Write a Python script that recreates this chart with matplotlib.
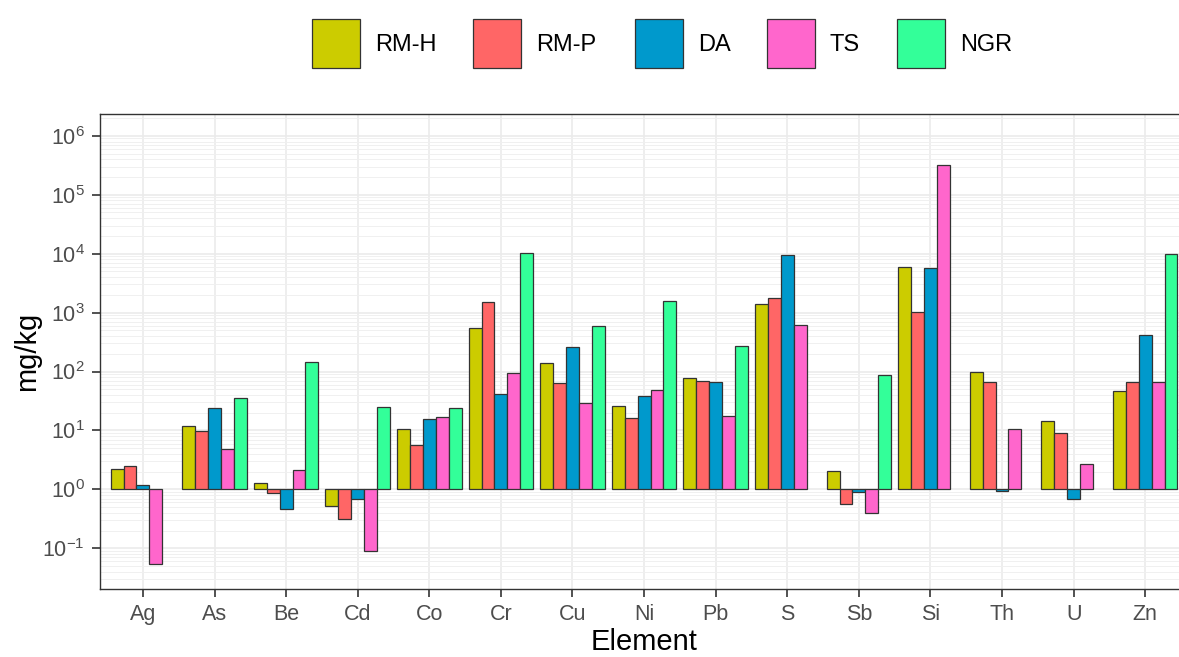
import numpy as np
import matplotlib
matplotlib.use("Agg")
import matplotlib.pyplot as plt
from matplotlib.patches import Rectangle
from matplotlib.ticker import LogLocator, NullFormatter

plt.rcParams['font.family'] = ['Liberation Sans', 'DejaVu Sans']

elements = ["Ag", "As", "Be", "Cd", "Co", "Cr", "Cu", "Ni", "Pb", "S", "Sb", "Si", "Th", "U", "Zn"]
groups = ["RM-H", "RM-P", "DA", "TS", "NGR"]
colors = ["#CCCC00", "#FF6666", "#0099CC", "#FF66CC", "#33FF99"]

nan = np.nan
rm_h = [2.2, 11.8, 1.26, 0.52, 10.7, 550, 140, 26.5, 78, 1420, 2.04, 5900, 100, 14.6, 47.6]
rm_p = [2.5, 9.8, 0.88, 0.32, 5.7, 1490, 63, 16.4, 69, 1740, 0.57, 1010, 67, 9.1, 67]
da = [1.17, 24, 0.47, 0.70, 15.4, 42, 263, 38, 66, 9500, 0.91, 5620, 0.93, 0.68, 420]
ts = [0.054, 4.9, 2.1, 0.089, 17, 95, 29, 48, 17.5, 625, 0.40, 318000, 10.6, 2.65, 67]
ngr = [nan, 36, 144, 25, 24, 10300, 600, 1550, 272, nan, 89, nan, nan, nan, 9900]
series = [rm_h, rm_p, da, ts, ngr]

W, H = 1179, 657
fig = plt.figure(figsize=(W / 100, H / 100), dpi=100)
ax = fig.add_axes([0.0848, 0.1035, 0.923, 0.723])

x = np.arange(len(elements))
w = 0.9 / len(groups)
for j, (vals, col) in enumerate(zip(series, colors)):
    v = np.array(vals, dtype=float)
    ok = ~np.isnan(v)
    # bars grow from 1 so values below 1 hang downward on the log axis
    ax.bar(x[ok] + (j - 2) * w, v[ok] - 1, bottom=1, width=w,
           color=col, edgecolor="#333333", linewidth=0.9, zorder=3)

ax.set_yscale("log")
ax.set_ylim(10 ** -1.69, 10 ** 6.37)
ax.set_xlim(-0.6, 14.6)
ax.yaxis.set_major_locator(LogLocator(base=10, numticks=20))
ax.yaxis.set_minor_locator(LogLocator(base=10, subs=np.arange(2, 10), numticks=20))
ax.yaxis.set_minor_formatter(NullFormatter())
ax.set_xticks(x)
ax.set_xticklabels(elements)

ax.grid(True, which="major", color="#EBEBEB", linewidth=1.2, zorder=0)
ax.grid(True, which="minor", axis="y", color="#F0F0F0", linewidth=0.7, zorder=0)
ax.set_axisbelow(True)
for s in ax.spines.values():
    s.set_color("#333333")
    s.set_linewidth(1.0)
ax.tick_params(which="major", length=6, width=1.2, color="#333333",
               labelsize=15.5, labelcolor="#4D4D4D", pad=5)
ax.tick_params(which="minor", length=0)

ax.set_xlabel("Element", fontsize=21, labelpad=2)
ax.set_ylabel("mg/kg", fontsize=21, labelpad=1)

# legend across the top
box_x = [312, 473, 635, 767, 897]
for name, col, bx in zip(groups, colors, box_x):
    fig.patches.append(Rectangle((bx / W, 1 - 68 / H), 48 / W, 49 / H,
                                 transform=fig.transFigure, facecolor=col,
                                 edgecolor="#333333", linewidth=0.9))
    fig.text((bx + 63) / W, 1 - 45 / H, name, fontsize=17,
             ha="left", va="center", color="black")

fig.savefig("out.png", dpi=100)
